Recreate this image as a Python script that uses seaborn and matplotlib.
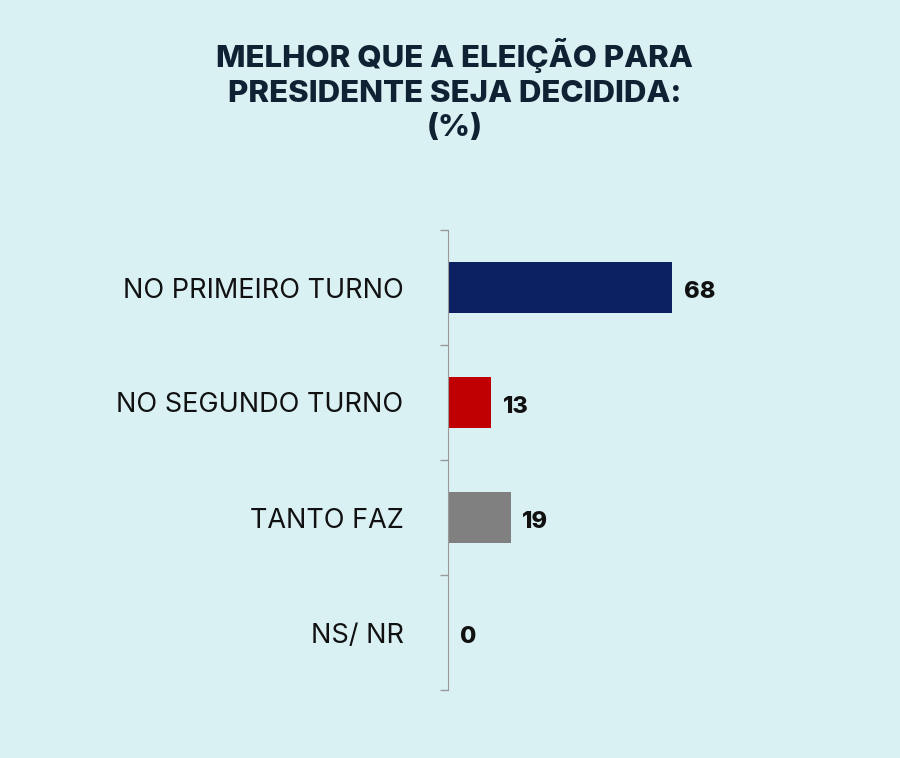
import numpy as np
import pandas as pd
import seaborn as sns
from matplotlib import pyplot as plt

categories = ["NO PRIMEIRO TURNO", "NO SEGUNDO TURNO", "TANTO FAZ", "NS/ NR"]
values = [68, 13, 19, 0]
colors = ["#0b2060", "#c00000", "#808080", "#808080"]
title = "MELHOR QUE A ELEIÇÃO PARA\nPRESIDENTE SEJA DECIDIDA:\n(%)"

bg = "#daf1f4"
sns.set_style("white")
plt.rcParams['font.family'] = ['Inter', 'DejaVu Sans']

df = pd.DataFrame({"cat": categories, "val": values})

fig = plt.figure(figsize=(9, 7.58), dpi=100, facecolor=bg)
ax = fig.add_axes([448 / 900, 1 - 690 / 758, 330 / 900, 460 / 758])
ax.set_facecolor(bg)
sns.barplot(data=df, x="val", y="cat", hue="cat", palette=colors, legend=False,
            width=0.45, ax=ax, saturation=1, linewidth=0)
ax.set_xlim(0, 100)
ax.set_ylim(3.5, -0.5)
ax.set_xlabel("")
ax.set_ylabel("")
ax.set_xticks([])
ax.set_yticks(range(4))
ax.set_yticklabels(categories, fontsize=19.5, color="#111111")
ax.tick_params(axis="y", which="major", length=0, pad=32)
ax.set_yticks([-0.5, 0.5, 1.5, 2.5, 3.5], minor=True)
ax.tick_params(axis="y", which="minor", left=True, length=6, width=1,
               color="#999999", direction="out")
for s in ["top", "right", "bottom"]:
    ax.spines[s].set_visible(False)
ax.spines["left"].set_color("#999999")

for i, v in enumerate(values):
    ax.text(v + 3.5, i + 0.04, str(v), va="center", ha="left",
            fontsize=17, fontweight="heavy", color="#111111")

fig.text(0.505, 0.95, title, ha="center", va="top", fontsize=22.5,
         fontweight="heavy", color="#0f2233", linespacing=1.3)

fig.savefig("out.png", dpi=100, facecolor=bg)
